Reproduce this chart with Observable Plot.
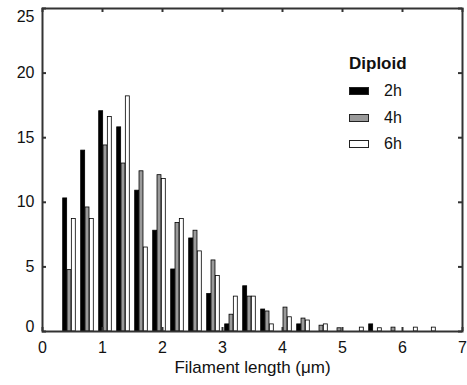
<!DOCTYPE html>
<html><head><meta charset="utf-8">
<script src="https://cdn.jsdelivr.net/npm/d3@7"></script>
<script src="https://cdn.jsdelivr.net/npm/@observablehq/plot@0.6"></script>
<style>
body{margin:0;background:#fff;font-family:"Liberation Sans",Arial,sans-serif}
#wrap{position:relative;width:467px;height:385px}
#legend{position:absolute;left:349px;top:52px;color:#111}
#legend .title{font-weight:bold;font-size:17px;line-height:24px;margin-bottom:2px}
#legend .row{display:flex;align-items:center;height:26.5px}
#legend .sw{width:18px;height:6px;border:1px solid #222;margin-right:15px}
#legend .lab{font-size:16px}
</style></head><body><div id="wrap"></div>
<script>
const binCenters = [0.45,0.75,1.05,1.35,1.65,1.95,2.25,2.55,2.85,3.15,3.45,3.75,4.05,4.35,4.65,4.95,5.25,5.55,5.85,6.15,6.45,6.75];
const series = ["2h","4h","6h"];
const h2 = [10.3,14.0,17.05,15.8,10.9,7.8,4.8,7.2,2.9,0.55,3.5,1.7,0,0.55,0,0,0,0.55,0,0,0,0];
const h4 = [4.75,9.6,14.4,13.0,12.4,12.1,8.4,7.8,5.5,1.3,2.7,1.55,1.85,1.0,0.45,0.25,0,0,0.3,0,0,0];
const h6 = [8.7,8.7,16.6,18.2,6.5,11.8,8.7,6.2,4.3,2.7,2.7,0.55,1.1,0.85,0.55,0,0.3,0.25,0,0.3,0.3,0];
const xTicks = [0,1,2,3,4,5,6,7];
const yTicks = [0,5,10,15,20,25];
const colors = ["#000000","#9a9a9a","#ffffff"];
const xLabel = "Filament length (μm)";
const legendTitle = "Diploid";

const data = [];
[h2,h4,h6].forEach((arr,s)=>arr.forEach((v,i)=>{ if(v>0) data.push({center:binCenters[i], s, series:series[s], value:v}); }));

const W=467,H=385, mt=8, mb=54, ml=42, mr=5;
const innerH = H-mt-mb, innerW = W-ml-mr;
const off = 0.072, bw = 0.066;
const font = "'Liberation Sans', Arial, sans-serif";
const fmt = d3.format("d");
const yMid = yTicks.slice(1, -1);

const plot = Plot.plot({
  width:W, height:H, marginTop:mt, marginBottom:mb, marginLeft:ml, marginRight:mr,
  style:{fontFamily:font, fontSize:"16px", color:"#111", background:"transparent"},
  x:{domain:[0,7]}, y:{domain:[0,25]},
  color:{domain:series, range:colors},
  marks:[
    Plot.rect(data,{x1:d=>d.center+(d.s-1)*off-bw/2, x2:d=>d.center+(d.s-1)*off+bw/2, y1:0, y2:"value", fill:"series", stroke:"#000", strokeWidth:0.8}),
    Plot.tickX(xTicks,{x:d=>d, insetTop:innerH-4, stroke:"#333", strokeWidth:2}),
    Plot.tickX(xTicks,{x:d=>d, insetBottom:innerH-4, stroke:"#333", strokeWidth:2}),
    Plot.tickY(yTicks,{y:d=>d, insetRight:innerW-4, stroke:"#333", strokeWidth:2}),
    Plot.tickY(yTicks,{y:d=>d, insetLeft:innerW-4, stroke:"#333", strokeWidth:2}),
    Plot.axisX({ticks:xTicks, tickFormat:fmt, tickSize:0, tickPadding:10, label:null, fontSize:16}),
    Plot.axisX({ticks:[], label:xLabel, labelAnchor:"center", labelArrow:"none", labelOffset:41, fontSize:17, dx:-7}),
    Plot.axisY({ticks:yMid, tickFormat:fmt, tickSize:0, tickPadding:8, label:null, fontSize:16}),
    Plot.axisY({ticks:[yTicks[yTicks.length-1]], tickFormat:fmt, tickSize:0, tickPadding:8, label:null, dy:8, fontSize:16}),
    Plot.axisY({ticks:[yTicks[0]], tickFormat:fmt, tickSize:0, tickPadding:8, label:null, dy:-5, fontSize:16}),
    Plot.frame({stroke:"#333", strokeWidth:2})
  ]
});
const wrap = document.getElementById("wrap");
wrap.appendChild(plot);

const leg = document.createElement("div");
leg.id = "legend";
const t = document.createElement("div"); t.className="title"; t.textContent = legendTitle; leg.appendChild(t);
series.forEach((s,i)=>{
  const r = document.createElement("div"); r.className="row";
  const sw = document.createElement("span"); sw.className="sw"; sw.style.background = colors[i];
  const lb = document.createElement("span"); lb.className="lab"; lb.textContent = s;
  r.appendChild(sw); r.appendChild(lb); leg.appendChild(r);
});
wrap.appendChild(leg);
</script></body></html>
